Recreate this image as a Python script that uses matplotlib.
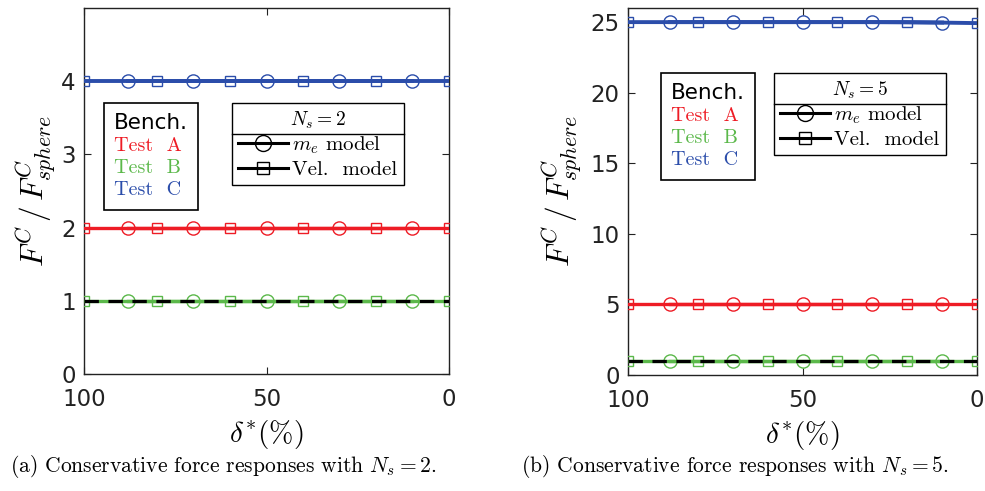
import matplotlib
matplotlib.use('Agg')
import matplotlib.pyplot as plt
from matplotlib.lines import Line2D

plt.rcParams['mathtext.fontset'] = 'cm'
plt.rcParams['font.family'] = 'DejaVu Sans'

# data
delta_vel = [100, 80, 60, 40, 20, 0]   # square markers (Vel. model)
delta_me = [88, 70, 50, 30, 10]        # circle markers (m_e model)

bench_ns2 = [1, 1, 1, 1, 1, 1]
testA_vel_ns2 = [2, 2, 2, 2, 2, 2]
testA_me_ns2 = [2, 2, 2, 2, 2]
testB_vel_ns2 = [1, 1, 1, 1, 1, 1]
testB_me_ns2 = [1, 1, 1, 1, 1]
testC_vel_ns2 = [4, 4, 4, 4, 4, 4]
testC_me_ns2 = [4, 4, 4, 4, 4]

bench_ns5 = [1, 1, 1, 1, 1, 1]
testA_vel_ns5 = [5, 5, 5, 5, 5, 5]
testA_me_ns5 = [5, 5, 5, 5, 5]
testB_vel_ns5 = [1, 1, 1, 1, 1, 1]
testB_me_ns5 = [1, 1, 1, 1, 1]
testC_vel_ns5 = [25, 25, 25, 25, 25, 24.93]
testC_me_ns5 = [25, 25, 25, 25, 24.97]

red = '#ee1c25'
green = '#5bb84a'
blue = '#2b4daa'

W, H = 985, 491
fig = plt.figure(figsize=(W / 100, H / 100), dpi=100)


def px_box(x0, y0, x1, y1):
    # pixel box (top-left origin) -> figure fraction rect
    return [x0 / W, 1 - y1 / H, (x1 - x0) / W, (y1 - y0) / H]


def panel(rect, bench, A, B, C, ylim, yticks, ns, bench_box, leg_box):
    ax = fig.add_axes(rect)
    tests = [(A, red), (B, green), (C, blue)]
    for (vel, me), col in tests:
        lw = 2.8 if col == blue else 2.4
        ax.plot(delta_vel, vel, color=col, lw=lw, marker='s', ms=7.5,
                mfc='none', mec=col, mew=1.0, zorder=3)
        ax.plot(delta_me, me, color=col, lw=lw, marker='o', ms=9.5,
                mfc='none', mec=col, mew=1.0, zorder=3)
    ax.plot(delta_vel, bench, color='black', lw=2.3, ls=(0, (4.5, 3)), zorder=4)

    ax.set_xlim(100, 0)
    ax.set_ylim(*ylim)
    ax.set_xticks([100, 50, 0])
    ax.set_yticks(yticks)
    ax.tick_params(direction='in', top=True, right=True, length=5,
                   labelsize=16.5, colors='#222222')
    ax.tick_params(axis='x', pad=10)
    ax.tick_params(axis='y', pad=6)
    for s in ax.spines.values():
        s.set_color('#222222')
        s.set_linewidth(1.0)

    ax.set_xlabel(r'$\delta^{*}(\%)$', fontsize=21, labelpad=5)
    ax.set_ylabel(r'$F^{C}\,/\,F^{C}_{sphere}$', fontsize=22.5)

    # colour-coded text legend
    h = [Line2D([], [], lw=0) for _ in range(4)]
    lg1 = ax.legend(h, ['Bench.', 'Test  A', 'Test  B', 'Test  C'],
                    loc='upper left',
                    bbox_to_anchor=(bench_box[0] / W, 1 - bench_box[1] / H),
                    bbox_transform=fig.transFigure,
                    handlelength=0, handletextpad=0, labelspacing=0.2,
                    borderpad=0.5, fontsize=14.5, fancybox=False,
                    edgecolor='black', framealpha=1, borderaxespad=0)
    lg1.get_frame().set_linewidth(1.2)
    for t, c in zip(lg1.get_texts(), ['black', red, green, blue]):
        t.set_color(c)
    lg1.get_texts()[0].set_fontsize(15.5)
    for t in lg1.get_texts()[1:]:
        t.set_fontfamily('cmr10')
    ax.add_artist(lg1)

    # model legend
    h2 = [Line2D([], [], color='black', lw=2.2, marker='o', ms=11.5, mfc='none', mew=1.0),
          Line2D([], [], color='black', lw=2.2, marker='s', ms=8.5, mfc='none', mew=1.0)]
    lg2 = ax.legend(h2, [r'$m_e$ model', 'Vel.  model'],
                    title=r'$N_s = %d$' % ns, title_fontsize=14,
                    loc='upper left',
                    bbox_to_anchor=(leg_box[0] / W, 1 - leg_box[1] / H),
                    bbox_transform=fig.transFigure,
                    handlelength=2.4, handletextpad=0.2, labelspacing=0.2,
                    borderpad=0.3, fontsize=15, fancybox=False,
                    edgecolor='black', framealpha=1, borderaxespad=0)
    lg2.get_frame().set_linewidth(1.0)
    for t in lg2.get_texts():
        t.set_fontfamily('cmr10')
    return ax, lg2


axL, legL = panel(px_box(84, 8, 449, 374), bench_ns2,
                  (testA_vel_ns2, testA_me_ns2), (testB_vel_ns2, testB_me_ns2),
                  (testC_vel_ns2, testC_me_ns2), (0, 5), [0, 1, 2, 3, 4], 2,
                  (104, 103), (232, 103))
axR, legR = panel(px_box(628, 8, 977, 375), bench_ns5,
                  (testA_vel_ns5, testA_me_ns5), (testB_vel_ns5, testB_me_ns5),
                  (testC_vel_ns5, testC_me_ns5), (0, 26), [0, 5, 10, 15, 20, 25], 5,
                  (661, 73), (774, 73))
axL.yaxis.set_label_coords(-0.072, 0.5)
axR.yaxis.set_label_coords(-0.125, 0.5)

fig.text(223 / W, 1 - 467 / H, r'(a) Conservative force responses with $N_s = 2$.',
         family='cmr10', fontsize=15.5, ha='center', va='center')
fig.text(735 / W, 1 - 467 / H, r'(b) Conservative force responses with $N_s = 5$.',
         family='cmr10', fontsize=15.5, ha='center', va='center')

# separator line under the legend title (MATLAB style)
fig.canvas.draw()
r = fig.canvas.get_renderer()
for lg in (legL, legR):
    bb = lg.get_frame().get_window_extent(r)
    tb = lg.get_title().get_window_extent(r)
    y = tb.y0 - 3
    fig.add_artist(Line2D([bb.x0 / W, bb.x1 / W], [y / H, y / H],
                          transform=fig.transFigure, color='black', lw=1.0))

fig.savefig('out.png', dpi=100)
